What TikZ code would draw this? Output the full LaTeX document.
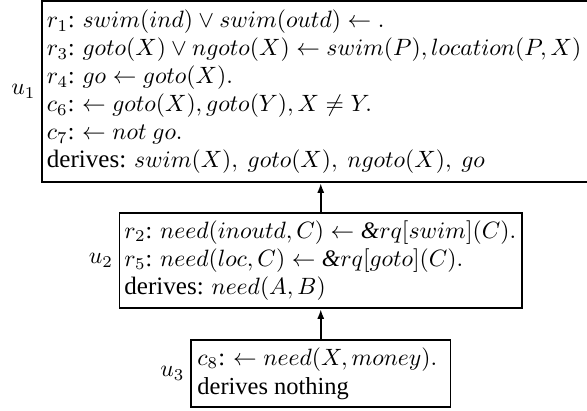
\documentclass[tikz,border=0pt]{standalone}
\usepackage{fontspec}
\setmainfont{Liberation Serif}
\usetikzlibrary{arrows.meta,fit}
\newcommand\twd[1]{{\fontsize{10.6}{11.85}\selectfont #1}}
\begin{document}
\begin{tikzpicture}[x=0.4234pt,y=-0.4234pt,
  box/.style={draw, line width=0.8pt, inner sep=0pt},
  txt/.style={anchor=west, inner sep=0pt, align=left, font=\fontsize{10}{11.85}\selectfont},
  bigtxt/.style={txt, font=\fontsize{10.35}{12.2}\selectfont},
  lbl/.style={anchor=east, inner sep=2.2pt, font=\fontsize{10}{12}\selectfont},
  up/.style={-{Latex[length=4.2pt,width=3pt]}, line width=0.8pt}]
\useasboundingbox (0,0) rectangle (587,410);
\clip (0,0) rectangle (587,410);
% box corners
\coordinate (a1) at (42,0.6);    \coordinate (b1) at (599.5,182);
\coordinate (a2) at (119.5,213); \coordinate (b2) at (522,308);
\coordinate (a3) at (191,340);   \coordinate (b3) at (450.5,407);
\node[box, fit=(a1)(b1)] (u1) {};
\node[box, fit=(a2)(b2)] (u2) {};
\node[box, fit=(a3)(b3)] (u3) {};
% text anchors
\coordinate (p1) at (46.5,92);
\coordinate (p2) at (124,260.5);
\coordinate (p3) at (197,373.5);
\node[txt] (t1) at (p1) {%
$r_1$: $swim(ind) \vee swim(outd) \leftarrow .$\\
$r_3$: $goto(X) \vee ngoto(X) \leftarrow swim(P), location(P,X)$\\
$r_4$: $go \leftarrow goto(X).$\\
$c_6$: $\leftarrow goto(X), goto(Y), X \neq Y.$\\
$c_7$: $\leftarrow not\ go.$\\
\twd{derives:} $swim(X),\ goto(X),\ ngoto(X),\ go$};
\node[txt] (t2) at (p2) {%
$r_2$: $need(inoutd, C) \leftarrow \textit{\&}rq[swim](C).$\\
$r_5$: $need(loc, C) \leftarrow \textit{\&}rq[goto](C).$\\
\twd{derives:} $need(A,B)$};
\node[bigtxt] (t3) at (p3) {%
$c_8$: $\leftarrow need(X, money).$\\
derives nothing};
% labels
\node[lbl] (l1) at (u1.west) {$u_1$};
\node[lbl] (l2) at (u2.west) {$u_2$};
\node[lbl] (l3) at (u3.west) {$u_3$};
% arrows
\draw[up] (u3.north) -- (u2.south);
\draw[up] (u2.north) -- (u2.north |- u1.south);
\end{tikzpicture}
\end{document}
